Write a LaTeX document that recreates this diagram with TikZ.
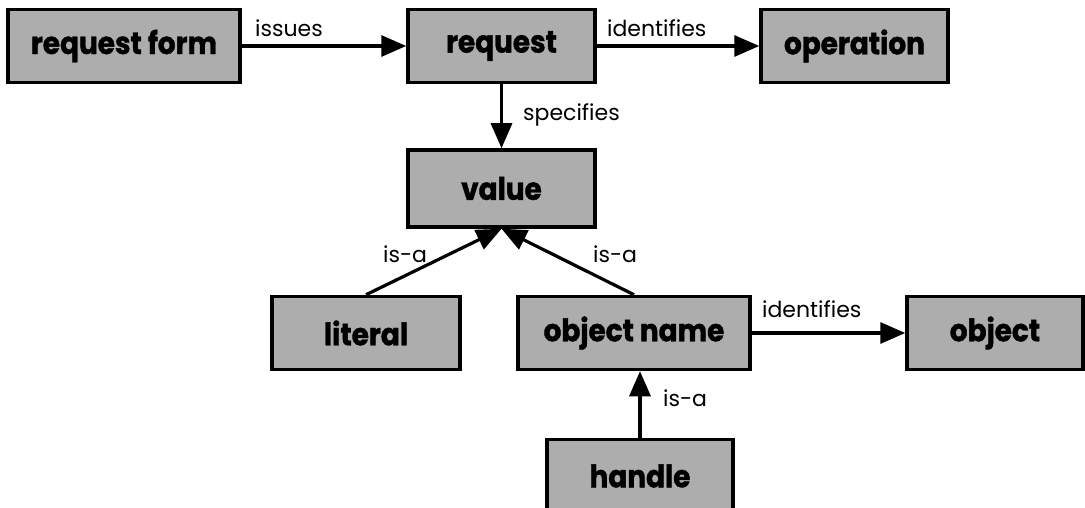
\documentclass[tikz,border=0pt]{standalone}
\usepackage{fontspec}
\setmainfont{Poppins}
\newfontfamily\boxfont[FakeStretch=0.9, BoldFeatures={FakeBold=1.2}]{Poppins}
\usetikzlibrary{arrows.meta}
\begin{document}
\begin{tikzpicture}[x=1pt,y=-1pt,
  entity/.style={draw=black, line width=3.5pt, fill=black!32, inner sep=0pt,
    minimum height=73pt, text=black,
    font=\boxfont\bfseries\fontsize{31}{31}\selectfont},
  rel/.style={line width=3.2pt, -{Triangle[length=25pt,width=21pt]}},
  lbl/.style={font=\fontsize{22}{22}\selectfont, inner sep=0pt, anchor=base west}]
\clip (0,0) rectangle (1085,508);
\useasboundingbox (0,0) rectangle (1085,508);

% entities
\node[entity, minimum width=232pt] (rf)  at (124,46)    {request form};
\node[entity, minimum width=187pt] (req) at (501.5,46)  {request};
\node[entity, minimum width=187pt] (op)  at (854.5,46)  {operation};
\node[entity, minimum width=187pt, minimum height=77pt] (val) at (501.5,188.5) {value};
\node[entity, minimum width=188pt] (lit) at (366,333)   {literal};
\node[entity, minimum width=232pt] (on)  at (634,333)   {object name};
\node[entity, minimum width=176pt] (obj) at (995,333)   {object};
\node[entity, minimum width=186pt] (hdl) at (640,476)   {handle};

% relations
\draw[rel] (rf.east) -- (req.west);
\draw[rel] (req.east) -- (op.west);
\draw[rel] (req.south) -- (val.south |- val.north);
\draw[rel] (lit.north) -- (val.south);
\draw[rel] (on.north) -- (val.south);
\draw[rel] (hdl.north) -- (hdl.north |- on.south);
\draw[rel] (on.east) -- (obj.west);

% relation labels
\node[lbl] (l1) at (255,37)  {issues};
\node[lbl] (l2) at (607,37)  {identifies};
\node[lbl] (l3) at (523,121) {specifies};
\node[lbl] (l4) at (383,262) {is-a};
\node[lbl] (l5) at (593,262) {is-a};
\node[lbl] (l6) at (663,406) {is-a};
\node[lbl] (l7) at (762,317) {identifies};
\end{tikzpicture}
\end{document}
